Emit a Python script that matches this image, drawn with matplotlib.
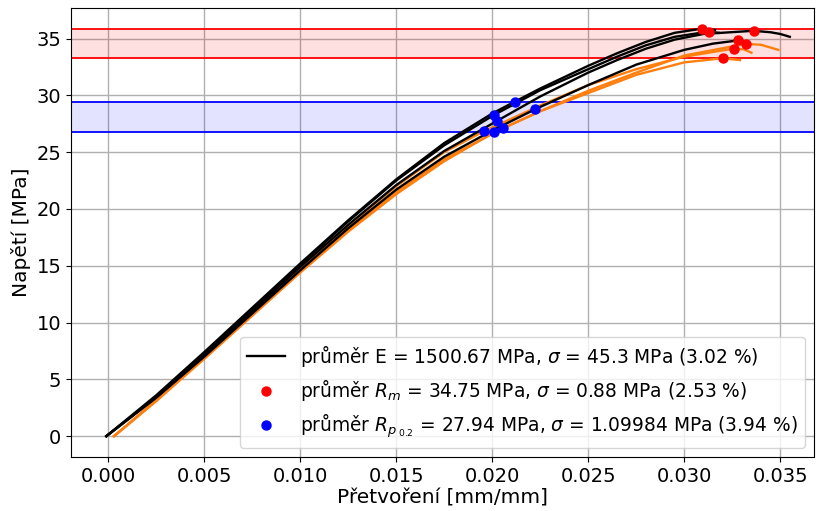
import matplotlib
matplotlib.use('Agg')
import matplotlib.pyplot as plt

# strain [mm/mm] and stress [MPa] of each specimen
# black specimens
a_eps = [-0.0001, 0.0025, 0.005, 0.0075, 0.010, 0.0125, 0.015, 0.0175, 0.020, 0.02116, 0.0225, 0.025, 0.0265, 0.028, 0.0295, 0.03092, 0.0316]
a_sig = [0, 3.6, 7.4, 11.3, 15.2, 19.0, 22.6, 25.8, 28.4, 29.43, 30.6, 32.6, 33.7, 34.7, 35.5, 35.87, 35.75]

b_eps = [-0.0001, 0.0025, 0.005, 0.0075, 0.010, 0.0125, 0.015, 0.0175, 0.02007, 0.0225, 0.025, 0.0265, 0.028, 0.0295, 0.03127, 0.0318]
b_sig = [0, 3.5, 7.3, 11.2, 15.1, 18.9, 22.5, 25.6, 28.25, 30.45, 32.3, 33.4, 34.4, 35.15, 35.61, 35.5]

c_eps = [-0.0001, 0.0025, 0.005, 0.0075, 0.010, 0.0125, 0.015, 0.0175, 0.02025, 0.0225, 0.025, 0.0265, 0.028, 0.0295, 0.031, 0.03361, 0.0345, 0.035, 0.0355]
c_sig = [0, 3.4, 7.1, 11.0, 14.9, 18.6, 22.1, 25.1, 27.75, 29.9, 32.0, 33.1, 34.1, 34.9, 35.4, 35.68, 35.55, 35.4, 35.15]

d_eps = [-0.0001, 0.0025, 0.005, 0.0075, 0.010, 0.0125, 0.015, 0.0175, 0.020, 0.02224, 0.025, 0.0275, 0.030, 0.0315, 0.0328, 0.0332]
d_sig = [0, 3.4, 7.0, 10.8, 14.6, 18.3, 21.7, 24.6, 26.9, 28.78, 30.9, 32.7, 34.0, 34.55, 34.83, 34.75]

# orange specimens
e_eps = [0.0003, 0.0025, 0.005, 0.0075, 0.010, 0.0125, 0.015, 0.0175, 0.02056, 0.0225, 0.025, 0.0275, 0.030, 0.0332, 0.034, 0.0349]
e_sig = [0, 3.1, 6.9, 10.7, 14.5, 18.1, 21.5, 24.4, 27.09, 28.6, 30.4, 32.0, 33.5, 34.53, 34.45, 34.0]

f_eps = [0.0003, 0.0025, 0.005, 0.0075, 0.010, 0.0125, 0.015, 0.0175, 0.01958, 0.0225, 0.025, 0.0275, 0.030, 0.0326, 0.0331, 0.0335]
f_sig = [0, 3.2, 7.0, 10.9, 14.7, 18.5, 22.0, 25.0, 26.85, 29.1, 30.9, 32.3, 33.4, 34.12, 34.05, 33.75]

g_eps = [0.0003, 0.0025, 0.005, 0.0075, 0.010, 0.0125, 0.015, 0.0175, 0.0201, 0.0225, 0.025, 0.0275, 0.030, 0.0320, 0.0329]
g_sig = [0, 3.1, 6.8, 10.6, 14.4, 18.0, 21.3, 24.2, 26.74, 28.6, 30.2, 31.8, 32.9, 33.26, 33.1]

# pevnost Rm (red) a mez kluzu Rp0.2 (blue)
rm_eps = [0.03092, 0.03127, 0.03361, 0.0328, 0.0332, 0.0326, 0.0320]
rm_sig = [35.87, 35.61, 35.68, 34.83, 34.53, 34.12, 33.26]
rp_eps = [0.02116, 0.02007, 0.02025, 0.02224, 0.02056, 0.01958, 0.0201]
rp_sig = [29.43, 28.25, 27.75, 28.78, 27.09, 26.85, 26.74]

labels = ['průměr E = 1500.67 MPa, $\\sigma$ = 45.3 MPa (3.02 %)',
          'průměr $R_m$ = 34.75 MPa, $\\sigma$ = 0.88 MPa (2.53 %)',
          'průměr $R_{p_{\\ 0.2}}$ = 27.94 MPa, $\\sigma$ = 1.09984 MPa (3.94 %)']

plt.rcParams['font.size'] = 14

fig = plt.figure(figsize=(8.21, 5.11), dpi=100)
ax = fig.add_axes([0.0865, 0.106, 0.905, 0.878])

# pasma min-max
ax.axhspan(min(rm_sig), max(rm_sig), color='red', alpha=0.12, lw=0)
ax.axhline(min(rm_sig), color='red', lw=1.3)
ax.axhline(max(rm_sig), color='red', lw=1.3)
ax.axhspan(min(rp_sig), max(rp_sig), color='blue', alpha=0.11, lw=0)
ax.axhline(min(rp_sig), color='blue', lw=1.3)
ax.axhline(max(rp_sig), color='blue', lw=1.3)

for eps, sig in [(e_eps, e_sig), (f_eps, f_sig), (g_eps, g_sig)]:
    ax.plot(eps, sig, color='tab:orange', lw=1.7)

ax.plot(a_eps, a_sig, color='black', lw=1.7, label=labels[0])
for eps, sig in [(b_eps, b_sig), (c_eps, c_sig), (d_eps, d_sig)]:
    ax.plot(eps, sig, color='black', lw=1.7)

ax.plot(rm_eps, rm_sig, 'o', color='red', ms=6.5, label=labels[1], zorder=5)
ax.plot(rp_eps, rp_sig, 'o', color='blue', ms=6.5, label=labels[2], zorder=5)

ax.set_xlim(-0.00194, 0.03676)
ax.set_ylim(-1.82, 37.67)
ax.set_xticks([0.000, 0.005, 0.010, 0.015, 0.020, 0.025, 0.030, 0.035])
ax.grid(True, color='#b0b0b0', lw=1)
ax.set_axisbelow(True)
ax.set_xlabel('Přetvoření [mm/mm]', fontsize=14.5, labelpad=2)
ax.set_ylabel('Napětí [MPa]', fontsize=14.5)
ax.legend(loc='lower right', fontsize=13.4)

fig.savefig('out.png', dpi=100)
